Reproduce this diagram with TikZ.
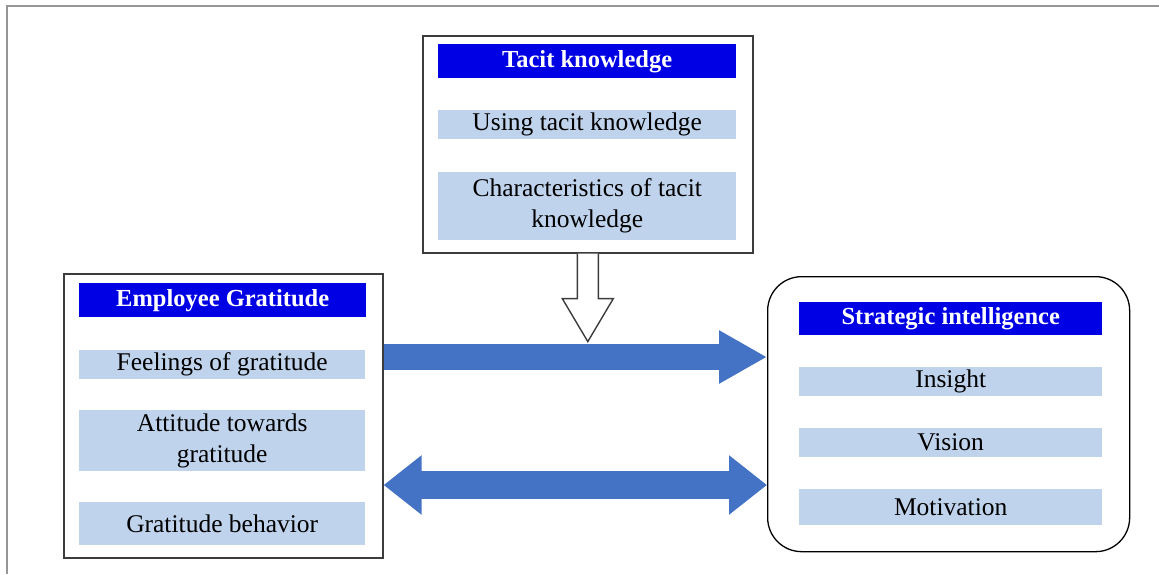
\documentclass[tikz,border=0pt]{standalone}
\usepackage{fontspec}
\setmainfont{Liberation Serif}
\usetikzlibrary{arrows.meta,calc}
\definecolor{titleblue}{RGB}{0,0,228}
\definecolor{barblue}{RGB}{191,211,236}
\definecolor{arrowblue}{RGB}{68,114,196}
\definecolor{boxgray}{RGB}{60,60,60}
\definecolor{framegray}{RGB}{150,150,150}
\tikzset{
  panel/.style={draw=boxgray, line width=1.6pt, fill=white, anchor=north west, inner sep=0pt},
  roundpanel/.style={draw=black, line width=1.3pt, fill=white, rounded corners=34pt, anchor=north west, inner sep=0pt},
  titlebar/.style={fill=titleblue, text=white, anchor=north west, inner sep=0pt,
    font=\fontsize{24.5}{28}\selectfont\bfseries},
  itembar/.style={fill=barblue, text=black, anchor=north west, inner sep=0pt, align=center,
    font=\fontsize{25.5}{31}\selectfont},
  bigarrow/.style={draw=arrowblue, line width=27pt},
}
\begin{document}
\begin{tikzpicture}[x=1pt,y=-1pt]
\useasboundingbox (0,0) rectangle (1159,574);
% outer frame
\draw[framegray, line width=1.3pt] (7,574) -- (7,6) -- (1159,6);

% Tacit knowledge panel
\node[panel, minimum width=330pt, minimum height=217pt] (tac) at (422,35) {};
\node[titlebar, minimum width=298pt, minimum height=34pt] (tact) at (438,44) {Tacit knowledge};
\node[itembar, minimum width=298pt, minimum height=29pt] (taca) at (438,110) {Using tacit knowledge};
\node[itembar, minimum width=298pt, minimum height=68pt] (tacb) at (438,172) {Characteristics of tacit\\knowledge};

% Employee Gratitude panel
\node[panel, minimum width=319pt, minimum height=284pt] (gra) at (63,273) {};
\node[titlebar, minimum width=287pt, minimum height=34pt] (grat) at (79,283) {Employee Gratitude};
\node[itembar, minimum width=286pt, minimum height=29pt] (graa) at (79,350) {Feelings of gratitude};
\node[itembar, minimum width=286pt, minimum height=61pt] (grab) at (79,410) {Attitude towards\\gratitude};
\node[itembar, minimum width=286pt, minimum height=43pt] (grac) at (79,502) {Gratitude behavior};

% Strategic intelligence panel
\node[roundpanel, minimum width=362pt, minimum height=275pt] (str) at (767,276) {};
\node[titlebar, minimum width=303pt, minimum height=33pt] (strt) at (799,302) {Strategic intelligence};
\node[itembar, minimum width=303pt, minimum height=29pt] (stra) at (799,367) {Insight};
\node[itembar, minimum width=303pt, minimum height=29pt] (strb) at (799,428) {Vision};
\node[itembar, minimum width=303pt, minimum height=36pt] (strc) at (799,489) {Motivation};

% hollow arrow from Tacit knowledge down
\coordinate (tip) at ($(tac.south)+(0,88)$);
\draw[boxgray, line width=1.4pt, fill=white, line join=miter]
  ($(tac.south)+(-10.5,0)$) -- ($(tac.south)+(-10.5,45)$) -- ($(tac.south)+(-25.5,45)$)
  -- (tip) -- ($(tac.south)+(25.5,45)$) -- ($(tac.south)+(10.5,45)$) -- ($(tac.south)+(10.5,0)$);

% blue arrows
\coordinate (y1) at (0,357);
\coordinate (y2) at (0,485);
\draw[bigarrow, line width=26pt, -{Triangle[width=50pt,length=48pt]}]
  (gra.east |- y1) -- (str.west |- y1);
\draw[bigarrow, line width=28pt, {Triangle[width=57pt,length=38pt]}-{Triangle[width=57pt,length=38pt]}]
  (gra.east |- y2) -- (str.west |- y2);
\end{tikzpicture}
\end{document}
